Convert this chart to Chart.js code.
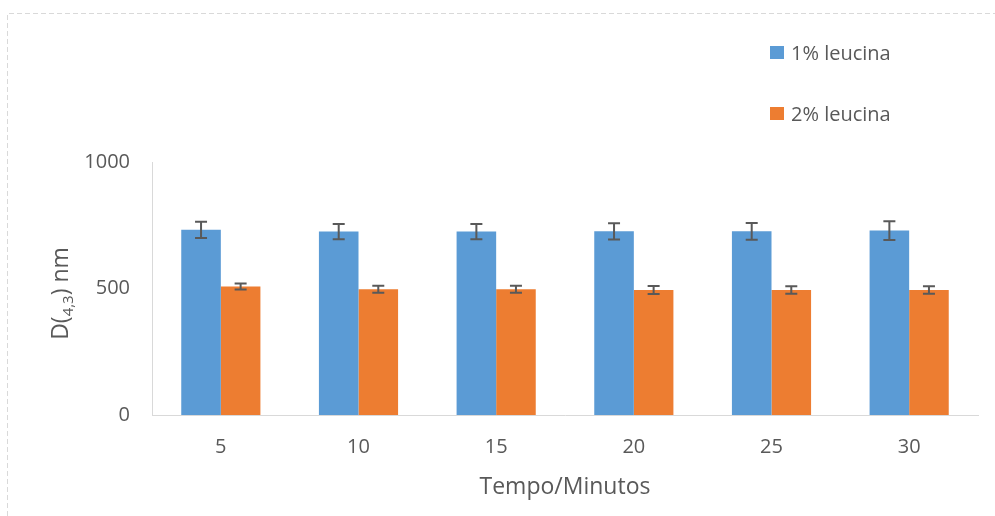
<!DOCTYPE html>
<html>
<head>
<meta charset="utf-8">
<script src="https://cdn.jsdelivr.net/npm/chart.js@4"></script>
<style>
  html, body { margin: 0; padding: 0; background: #fff; }
  #wrap { position: relative; width: 995px; height: 516px; }
  #legend { position: absolute; left: 770px; top: 36px; font-family: "Open Sans", sans-serif; font-size: 20px; color: #595959; }
  #legend .item { display: flex; align-items: center; height: 32px; margin-bottom: 29px; }
  #legend .box { width: 14px; height: 13px; margin-right: 7px; }
</style>
</head>
<body>
<div id="wrap">
  <canvas id="chart" width="995" height="516"></canvas>
  <div id="legend"></div>
</div>
<script>
// tempo (min) vs D(4,3) for the two leucine levels
var tempos = ['5', '10', '15', '20', '25', '30'];
var leucina1 = [732, 725, 725, 726, 726, 729];
var erro1 = [32, 30, 30, 32, 33, 37];
var leucina2 = [508, 497, 497, 494, 494, 494];
var erro2 = [12, 14, 14, 16, 15, 15];
var yTicks = [0, 500, 1000];

var cinza = '#595959';
var fonte = '"Open Sans", sans-serif';

// dashed frame around the whole figure
var frame = {
    id: 'frame',
    beforeDraw: function (chart) {
        var ctx = chart.ctx;
        ctx.save();
        ctx.fillStyle = '#fff';
        ctx.fillRect(0, 0, chart.width, chart.height);
        ctx.strokeStyle = '#d9d9d9';
        ctx.lineWidth = 1;
        ctx.setLineDash([5, 3]);
        ctx.beginPath();
        ctx.moveTo(7.5, chart.height);
        ctx.lineTo(7.5, 13.5);
        ctx.lineTo(chart.width, 13.5);
        ctx.stroke();
        ctx.restore();
    }
};

// error bars on top of each bar
var errorBars = {
    id: 'errorBars',
    afterDatasetsDraw: function (chart) {
        var ctx = chart.ctx;
        var y = chart.scales.y;
        ctx.save();
        ctx.strokeStyle = cinza;
        ctx.lineWidth = 2;
        chart.data.datasets.forEach(function (ds, i) {
            var meta = chart.getDatasetMeta(i);
            meta.data.forEach(function (bar, j) {
                var v = ds.data[j], e = ds.erros[j];
                var top = y.getPixelForValue(v + e);
                var bot = y.getPixelForValue(v - e);
                ctx.beginPath();
                ctx.moveTo(bar.x, top);
                ctx.lineTo(bar.x, bot);
                ctx.moveTo(bar.x - 6, top);
                ctx.lineTo(bar.x + 6, top);
                ctx.moveTo(bar.x - 6, bot);
                ctx.lineTo(bar.x + 6, bot);
                ctx.stroke();
            });
        });
        ctx.restore();
    }
};

// y axis title with subscript "4,3"
var yTitle = {
    id: 'yTitle',
    afterDraw: function (chart) {
        var ctx = chart.ctx;
        var area = chart.chartArea;
        var parts = [
            ['D(', '23px ' + fonte, 0],
            ['4,3', '15px ' + fonte, 5],
            [') nm', '23px ' + fonte, 0]
        ];
        ctx.save();
        var w = 0;
        parts.forEach(function (p) { ctx.font = p[1]; w += ctx.measureText(p[0]).width; });
        ctx.translate(68, (area.top + area.bottom) / 2 + 5);
        ctx.rotate(-Math.PI / 2);
        ctx.fillStyle = cinza;
        ctx.textBaseline = 'alphabetic';
        var x = -w / 2;
        parts.forEach(function (p) {
            ctx.font = p[1];
            ctx.fillText(p[0], x, p[2]);
            x += ctx.measureText(p[0]).width;
        });
        ctx.restore();
    }
};

var ctx = document.getElementById('chart').getContext('2d');
var chart = new Chart(ctx, {
    type: 'bar',
    data: {
        labels: tempos,
        datasets: [
            { label: '1% leucina', data: leucina1, erros: erro1, backgroundColor: '#5b9bd5' },
            { label: '2% leucina', data: leucina2, erros: erro2, backgroundColor: '#ed7d31' }
        ]
    },
    options: {
        responsive: false,
        animation: false,
        layout: { padding: { top: 162, right: 17, left: 0, bottom: 0 } },
        datasets: { bar: { categoryPercentage: 0.575, barPercentage: 1 } },
        plugins: { legend: { display: false }, tooltip: { enabled: false } },
        scales: {
            x: {
                grid: { display: false, drawTicks: false },
                border: { display: true, color: '#d9d9d9', width: 1 },
                ticks: { color: cinza, font: { family: fonte, size: 20 }, padding: 20 },
                title: { display: true, text: 'Tempo/Minutos', color: cinza, font: { family: fonte, size: 23 }, padding: { top: 0, bottom: 15 } },
                afterFit: function (s) { s.height = 101; }
            },
            y: {
                min: 0,
                max: 1000,
                grid: { display: false, drawTicks: false },
                border: { display: true, color: '#d9d9d9', width: 1 },
                ticks: {
                    color: cinza, font: { family: fonte, size: 20 }, padding: 22,
                    callback: function (v) { return String(v); }
                },
                afterBuildTicks: function (s) { s.ticks = yTicks.map(function (v) { return { value: v }; }); },
                afterFit: function (s) { s.width = 152; }
            }
        }
    },
    plugins: [frame, errorBars, yTitle]
});

// legend stacked on the right
var legend = document.getElementById('legend');
chart.data.datasets.forEach(function (ds) {
    var item = document.createElement('div');
    item.className = 'item';
    var box = document.createElement('span');
    box.className = 'box';
    box.style.background = ds.backgroundColor;
    var txt = document.createElement('span');
    txt.textContent = ds.label;
    item.appendChild(box);
    item.appendChild(txt);
    legend.appendChild(item);
});
</script>
</body>
</html>
